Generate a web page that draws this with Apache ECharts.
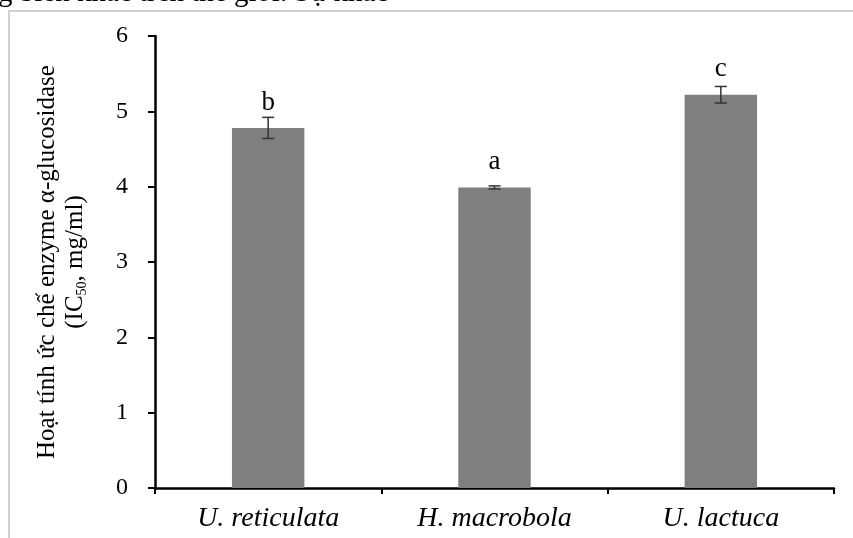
<!DOCTYPE html>
<html>
<head>
<meta charset="utf-8">
<script src="https://cdn.jsdelivr.net/npm/echarts@6/dist/echarts.min.js"></script>
<style>html,body{margin:0;padding:0;background:#fff;}#c{width:853px;height:538px;}</style>
</head>
<body>
<div id="c"></div>
<script>
var categories = ['U. reticulata', 'H. macrobola', 'U. lactuca'];
var values = [4.78, 3.99, 5.22];
var errors = [0.14, 0.02, 0.11];
var letters = ['b', 'a', 'c'];
var yTicks = [0, 1, 2, 3, 4, 5, 6];

var chart = echarts.init(document.getElementById('c'), null, {renderer: 'canvas'});
var serif = '"Liberation Serif", "Times New Roman", serif';

var option = {
  animation: false,
  backgroundColor: '#fff',
  graphic: [
    {type: 'rect', shape: {x: 9, y: 11, width: 900, height: 600}, style: {fill: '#fff', stroke: '#d0d0d0', lineWidth: 2}, z: -10},
    {type: 'text', x: -2, y: -7, style: {text: 'g biến khác trên thế giới. Sự khác', font: '29px ' + serif, fill: '#000', verticalAlign: 'middle'}, z: 10}
  ],
  grid: {left: 155, right: 19, top: 36, bottom: 50},
  xAxis: {
    type: 'category',
    data: categories,
    axisLine: {lineStyle: {color: '#000', width: 2.5}},
    axisTick: {show: true, length: 6, lineStyle: {color: '#000', width: 2}},
    axisLabel: {fontFamily: serif, fontStyle: 'italic', fontSize: 28, color: '#000', margin: 17}
  },
  yAxis: {
    type: 'value',
    min: 0, max: 6, interval: 1,
    splitLine: {show: false},
    axisLine: {show: true, lineStyle: {color: '#000', width: 2.5}},
    axisTick: {show: true, length: 7, lineStyle: {color: '#000', width: 2}},
    axisLabel: {fontFamily: serif, fontSize: 24, color: '#000', margin: 27,
      formatter: function (v) { return yTicks.indexOf(v) >= 0 ? String(v) : ''; }},
    name: '{a|Hoạt tính ức chế enzyme α-glucosidase}\n{a|(IC}{s|50}{a|, mg/ml)}',
    nameLocation: 'middle',
    nameGap: 66,
    nameTextStyle: {
      align: 'center',
      lineHeight: 28,
      rich: {
        a: {fontFamily: serif, fontSize: 25, color: '#000', lineHeight: 28},
        s: {fontFamily: serif, fontSize: 14, color: '#000', verticalAlign: 'bottom', padding: [9, 0, 0, 0]}
      }
    }
  },
  series: [
    {
      type: 'bar',
      data: values,
      barWidth: '32%',
      itemStyle: {color: '#7f7f7f'},
      label: {
        show: true, position: 'top', distance: 12,
        fontFamily: serif, fontSize: 27, color: '#000',
        formatter: function (p) { return letters[p.dataIndex]; }
      },
      z: 2
    },
    {
      type: 'custom',
      data: values.map(function (v, i) { return [i, v, errors[i]]; }),
      z: 5,
      renderItem: function (params, api) {
        var i = api.value(0), v = api.value(1), e = api.value(2);
        var hi = api.coord([i, v + e]);
        var lo = api.coord([i, v - e]);
        var cap = 6;
        var st = {stroke: '#333', lineWidth: 1.5};
        return {
          type: 'group',
          children: [
            {type: 'line', shape: {x1: hi[0], y1: hi[1], x2: lo[0], y2: lo[1]}, style: st},
            {type: 'line', shape: {x1: hi[0] - cap, y1: hi[1], x2: hi[0] + cap, y2: hi[1]}, style: st},
            {type: 'line', shape: {x1: lo[0] - cap, y1: lo[1], x2: lo[0] + cap, y2: lo[1]}, style: st}
          ]
        };
      }
    }
  ]
};
chart.setOption(option);
</script>
</body>
</html>
